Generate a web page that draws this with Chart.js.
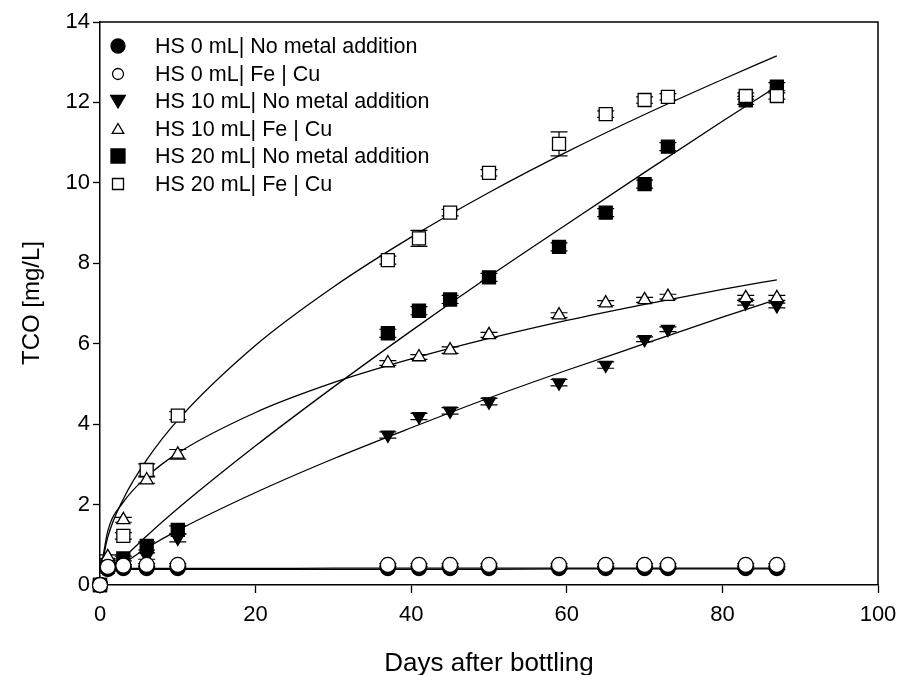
<!DOCTYPE html>
<html>
<head>
<meta charset="utf-8">
<script src="https://cdn.jsdelivr.net/npm/chart.js@4.4.1/dist/chart.umd.min.js"></script>
<style>
  html, body { margin: 0; padding: 0; background: #fff; }
  canvas { display: block; }
</style>
</head>
<body>
<canvas id="tcoChart" width="898" height="675"></canvas>
<script>
// sampling days
const days = [0, 1, 3, 6, 10, 37, 41, 45, 50, 59, 65, 70, 73, 83, 87];

// measured TCO [mg/L] per series
const hs0None  = [0, 0.40, 0.42, 0.42, 0.42, 0.42, 0.42, 0.42, 0.42, 0.42, 0.42, 0.42, 0.42, 0.42, 0.42];
const hs0Fe    = [0, 0.45, 0.48, 0.50, 0.50, 0.50, 0.50, 0.50, 0.50, 0.50, 0.50, 0.50, 0.50, 0.50, 0.50];
const hs10None = [0, 0.40, 0.45, 0.72, 1.17, 3.73, 4.19, 4.33, 4.56, 5.03, 5.47, 6.11, 6.36, 7.02, 6.95];
const hs10Fe   = [0, 0.70, 1.62, 2.61, 3.25, 5.52, 5.67, 5.84, 6.22, 6.71, 7.01, 7.09, 7.17, 7.14, 7.14];
const hs20None = [0, 0.45, 0.66, 0.97, 1.37, 6.26, 6.82, 7.10, 7.65, 8.41, 9.26, 9.97, 10.90, 12.05, 12.39];
const hs20Fe   = [0, 0.50, 1.22, 2.86, 4.21, 8.08, 8.62, 9.26, 10.25, 10.97, 11.71, 12.06, 12.14, 12.16, 12.16];

// error bar half-heights
const hs0NoneErr  = [0, 0.03, 0.03, 0.03, 0.03, 0.03, 0.03, 0.03, 0.03, 0.03, 0.03, 0.03, 0.03, 0.03, 0.03];
const hs0FeErr    = [0, 0.03, 0.03, 0.03, 0.03, 0.03, 0.03, 0.03, 0.03, 0.03, 0.03, 0.03, 0.03, 0.03, 0.03];
const hs10NoneErr = [0, 0.05, 0.05, 0.08, 0.10, 0.08, 0.08, 0.08, 0.08, 0.08, 0.08, 0.06, 0.06, 0.06, 0.06];
const hs10FeErr   = [0, 0.05, 0.06, 0.08, 0.12, 0.06, 0.06, 0.08, 0.06, 0.06, 0.06, 0.06, 0.06, 0.06, 0.06];
const hs20NoneErr = [0, 0.06, 0.06, 0.10, 0.10, 0.10, 0.10, 0.10, 0.10, 0.10, 0.10, 0.10, 0.10, 0.10, 0.10];
const hs20FeErr   = [0, 0.06, 0.08, 0.15, 0.10, 0.10, 0.20, 0.08, 0.08, 0.30, 0.08, 0.08, 0.08, 0.08, 0.08];

// fitted curves
const fitDays      = [0.3, 1, 3, 6, 10, 20, 30, 40, 50, 60, 70, 80, 87];
const fitHs0None   = [0.25, 0.38, 0.39, 0.39, 0.39, 0.39, 0.39, 0.39, 0.39, 0.40, 0.40, 0.40, 0.40];
const fitHs0Fe     = [0.25, 0.40, 0.41, 0.41, 0.41, 0.41, 0.42, 0.42, 0.42, 0.42, 0.42, 0.42, 0.42];
const fitHs10None  = [0.30, 0.38, 0.54, 0.92, 1.36, 2.30, 3.14, 3.91, 4.65, 5.34, 6.00, 6.66, 7.10];
const fitHs10Fe    = [0.60, 1.34, 2.06, 2.69, 3.28, 4.29, 5.03, 5.62, 6.13, 6.58, 6.98, 7.35, 7.59];
const fitHs20None  = [0.30, 0.40, 0.68, 1.22, 1.90, 3.46, 4.92, 6.32, 7.67, 8.97, 10.26, 11.53, 12.40];
const fitHs20Fe    = [0.55, 1.19, 2.14, 3.11, 4.10, 5.96, 7.41, 8.65, 9.76, 10.77, 11.70, 12.57, 13.16];

const xTicks = [0, 20, 40, 60, 80, 100];
const yTicks = [0, 2, 4, 6, 8, 10, 12, 14];

const FONT = "'Liberation Sans', Arial, sans-serif";

// one entry per measured series
const series = [
  { label: 'HS 0 mL| No metal addition',  values: hs0None,  err: hs0NoneErr,  fit: fitHs0None,  shape: 'circle',   filled: true  },
  { label: 'HS 0 mL| Fe | Cu',            values: hs0Fe,    err: hs0FeErr,    fit: fitHs0Fe,    shape: 'circle',   filled: false },
  { label: 'HS 10 mL| No metal addition', values: hs10None, err: hs10NoneErr, fit: fitHs10None, shape: 'triDown',  filled: true  },
  { label: 'HS 10 mL| Fe | Cu',           values: hs10Fe,   err: hs10FeErr,   fit: fitHs10Fe,   shape: 'triangle', filled: false },
  { label: 'HS 20 mL| No metal addition', values: hs20None, err: hs20NoneErr, fit: fitHs20None, shape: 'rect',     filled: true  },
  { label: 'HS 20 mL| Fe | Cu',           values: hs20Fe,   err: hs20FeErr,   fit: fitHs20Fe,   shape: 'rect',     filled: false }
];

function toPoints(xs, ys) {
  return xs.map((x, i) => ({ x: x, y: ys[i] }));
}

function buildDatasets() {
  const sets = [];
  series.forEach(s => {
    // fit line, drawn underneath
    sets.push({
      type: 'line',
      data: toPoints(fitDays, s.fit),
      borderColor: '#000',
      borderWidth: 1.3,
      pointRadius: 0,
      cubicInterpolationMode: 'monotone',
      fill: false,
      order: 10,
      clip: false
    });
  });
  series.forEach(s => {
    const isTri = s.shape === 'triangle' || s.shape === 'triDown';
    sets.push({
      type: 'scatter',
      label: s.label,
      data: toPoints(days, s.values),
      pointStyle: isTri ? 'triangle' : s.shape,
      rotation: s.shape === 'triDown' ? 180 : 0,
      pointRadius: s.shape === 'rect' ? 9.2 : 7.5,
      backgroundColor: s.filled ? '#000' : '#fff',
      borderColor: '#000',
      borderWidth: 1.3,
      order: s.filled ? 5 : 1,
      clip: false
    });
  });
  return sets;
}

// small vertical error bars with caps, behind markers
const errorBars = {
  id: 'errorBars',
  beforeDatasetsDraw(chart) {
    const { ctx, scales: { x, y } } = chart;
    ctx.save();
    ctx.strokeStyle = '#000';
    ctx.lineWidth = 1.2;
    series.forEach(s => {
      s.err.forEach((e, j) => {
        if (!e) return;
        const px = x.getPixelForValue(days[j]);
        const top = y.getPixelForValue(s.values[j] + e);
        const bot = y.getPixelForValue(s.values[j] - e);
        ctx.beginPath();
        ctx.moveTo(px, top); ctx.lineTo(px, bot);
        ctx.moveTo(px - 8.5, top); ctx.lineTo(px + 8.5, top);
        ctx.moveTo(px - 8.5, bot); ctx.lineTo(px + 8.5, bot);
        ctx.stroke();
      });
    });
    ctx.restore();
  }
};

// top and right frame lines
const frame = {
  id: 'frame',
  beforeDatasetsDraw(chart) {
    const { ctx, chartArea: a } = chart;
    ctx.save();
    ctx.strokeStyle = '#000';
    ctx.lineWidth = 1.5;
    ctx.beginPath();
    ctx.moveTo(a.left, a.top);
    ctx.lineTo(a.right, a.top);
    ctx.lineTo(a.right, a.bottom);
    ctx.stroke();
    ctx.restore();
  }
};

function drawMarker(ctx, shape, filled, x, y, r) {
  ctx.beginPath();
  if (shape === 'circle') {
    ctx.arc(x, y, r, 0, Math.PI * 2);
  } else if (shape === 'rect') {
    ctx.rect(x - r, y - r, 2 * r, 2 * r);
  } else if (shape === 'triangle') {
    ctx.moveTo(x, y - r);
    ctx.lineTo(x + r * 1.05, y + r * 0.8);
    ctx.lineTo(x - r * 1.05, y + r * 0.8);
    ctx.closePath();
  } else {
    ctx.moveTo(x, y + r);
    ctx.lineTo(x + r * 1.05, y - r * 0.8);
    ctx.lineTo(x - r * 1.05, y - r * 0.8);
    ctx.closePath();
  }
  ctx.fillStyle = filled ? '#000' : '#fff';
  ctx.fill();
  ctx.lineWidth = 1.3;
  ctx.strokeStyle = '#000';
  ctx.stroke();
}

// legend in the top-left corner of the plot, plus axis titles
const legendAndTitles = {
  id: 'legendAndTitles',
  afterDraw(chart) {
    const { ctx } = chart;
    ctx.save();
    const rowY = [46, 74, 101, 129, 156, 184];
    series.forEach((s, i) => {
      const r = s.filled ? 7 : 5.5;
      drawMarker(ctx, s.shape, s.filled, 118, rowY[i], r);
      ctx.fillStyle = '#000';
      ctx.font = '21.5px ' + FONT;
      ctx.textAlign = 'left';
      ctx.textBaseline = 'middle';
      ctx.fillText(s.label, 155, rowY[i] + 1);
    });

    ctx.fillStyle = '#000';
    ctx.font = '26px ' + FONT;
    ctx.textAlign = 'center';
    ctx.textBaseline = 'alphabetic';
    ctx.fillText('Days after bottling', 489, 671);

    ctx.translate(39, 303);
    ctx.rotate(-Math.PI / 2);
    ctx.font = '24px ' + FONT;
    ctx.fillText('TCO [mg/L]', 0, 0);
    ctx.restore();
  }
};

function initChart() {
  const tickFont = { family: FONT, size: 22 };
  new Chart(document.getElementById('tcoChart'), {
    data: { datasets: buildDatasets() },
    options: {
      responsive: false,
      animation: false,
      devicePixelRatio: 1,
      layout: { padding: { top: 22, right: 20, left: 0, bottom: 0 } },
      plugins: { legend: { display: false }, tooltip: { enabled: false } },
      scales: {
        x: {
          type: 'linear',
          min: 0, max: 100,
          // fixed box so the plot area stays put
          afterFit: s => { s.height = 90; s.paddingLeft = 0; s.paddingRight = 0; },
          afterBuildTicks: s => { s.ticks = xTicks.map(v => ({ value: v })); },
          ticks: { font: tickFont, color: '#000', padding: 9, maxRotation: 0 },
          grid: { drawOnChartArea: false, tickLength: 8, tickColor: '#000', tickWidth: 1.3 },
          border: { color: '#000', width: 1.5 }
        },
        y: {
          type: 'linear',
          min: 0, max: 14,
          afterFit: s => { s.width = 100; s.paddingTop = 0; s.paddingBottom = 0; },
          afterBuildTicks: s => { s.ticks = yTicks.map(v => ({ value: v })); },
          ticks: { font: tickFont, color: '#000', padding: 3 },
          grid: { drawOnChartArea: false, tickLength: 7, tickColor: '#000', tickWidth: 1.3 },
          border: { color: '#000', width: 1.5 }
        }
      }
    },
    plugins: [frame, errorBars, legendAndTitles]
  });
}

document.addEventListener('DOMContentLoaded', function () {
  initChart();
});
</script>
</body>
</html>
